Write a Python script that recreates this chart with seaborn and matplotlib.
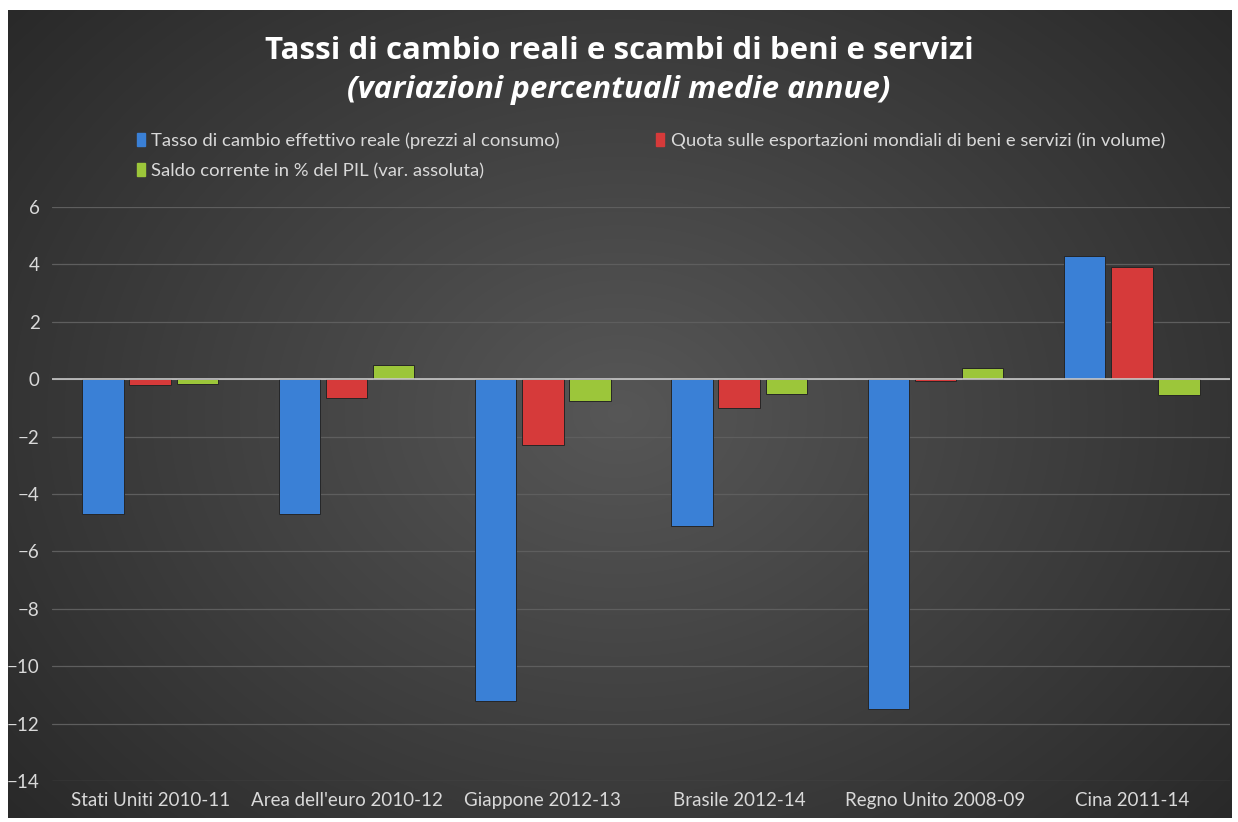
import matplotlib.pyplot as plt
import seaborn as sns
import numpy as np
import pandas as pd

categories = ["Stati Uniti 2010-11", "Area dell'euro 2010-12", "Giappone 2012-13",
              "Brasile 2012-14", "Regno Unito 2008-09", "Cina 2011-14"]
series_names = ["Tasso di cambio effettivo reale (prezzi al consumo)",
                "Quota sulle esportazioni mondiali di beni e servizi (in volume)",
                "Saldo corrente in % del PIL (var. assoluta)"]
tasso_cambio = [-4.7, -4.7, -11.2, -5.1, -11.5, 4.3]
quota_export = [-0.2, -0.65, -2.3, -1.0, -0.05, 3.9]
saldo_corrente = [-0.15, 0.5, -0.75, -0.5, 0.4, -0.55]
colors = ["#3a80d6", "#d63a3a", "#9cc63a"]

df = pd.DataFrame({
    "categoria": categories * 3,
    "serie": [series_names[0]] * 6 + [series_names[1]] * 6 + [series_names[2]] * 6,
    "valore": tasso_cambio + quota_export + saldo_corrente,
})

sns.set_theme(style="dark")
plt.rcParams['font.family'] = ['Lato', 'DejaVu Sans']

W, H = 1238, 822
fig = plt.figure(figsize=(W / 100, H / 100), dpi=100, facecolor="white")

# dark radial gradient panel
bg = fig.add_axes([8 / W, 4 / H, 1224 / W, 808 / H])
yy, xx = np.mgrid[-1:1:400j, -1:1:600j]
r = np.sqrt((xx * 0.95) ** 2 + (yy * 0.8) ** 2)
shade = 0.34 - 0.18 * np.clip(r, 0, 1.25) / 1.25
bg.imshow(np.dstack([shade] * 3), aspect="auto", extent=[0, 1, 0, 1], interpolation="bilinear")
bg.set_axis_off()

ax = fig.add_axes([52 / W, 41 / H, 1178 / W, 574 / H])
ax.patch.set_alpha(0)
sns.barplot(data=df, x="categoria", y="valore", hue="serie", palette=colors, saturation=1,
            width=0.72, gap=0.12, ax=ax, edgecolor="#262626", linewidth=0.7,
            legend=False)

ax.set_ylim(-14, 6)
ax.set_xlim(-0.5, 5.5)
ax.set_yticks(np.arange(-14, 7, 2))
ax.grid(axis="y", color="#5e5e5e", linewidth=0.9)
ax.grid(axis="x", visible=False)
ax.set_axisbelow(True)
ax.axhline(0, color="#c8c8c8", linewidth=1.2, zorder=1)
for s in ax.spines.values():
    s.set_visible(False)
ax.set_xlabel("")
ax.set_ylabel("")
ax.tick_params(axis="both", colors="#d9d9d9", labelsize=13.5, length=0)
ax.tick_params(axis="y", pad=9)
ax.tick_params(axis="x", pad=8)

# title
fig.text(0.5, 0.938, "Tassi di cambio reali e scambi di beni e servizi", ha="center", va="center",
         color="white", fontsize=22.5, fontweight="bold", family=["Open Sans", "DejaVu Sans"])
fig.text(0.5, 0.891, "(variazioni percentuali medie annue)", ha="center", va="center",
         color="white", fontsize=22.5, fontweight="bold", style="italic",
         family=["Open Sans", "DejaVu Sans"])

# legend (column-major fill, so order gives blue, red on row 1 and green on row 2)
handles = [plt.Rectangle((0, 0), 1, 1, color=c) for c in colors]
order = [0, 2, 1]
leg = fig.legend([handles[i] for i in order], [series_names[i] for i in order],
                 loc="upper left", bbox_to_anchor=(120 / W, 1 - 116 / H),
                 ncol=2, frameon=False, fontsize=13.3, handlelength=0.45, handleheight=0.7,
                 handletextpad=0.35, columnspacing=5.2, labelspacing=0.75)
for t in leg.get_texts():
    t.set_color("#d9d9d9")

fig.savefig("out.png", dpi=100, facecolor="white")
